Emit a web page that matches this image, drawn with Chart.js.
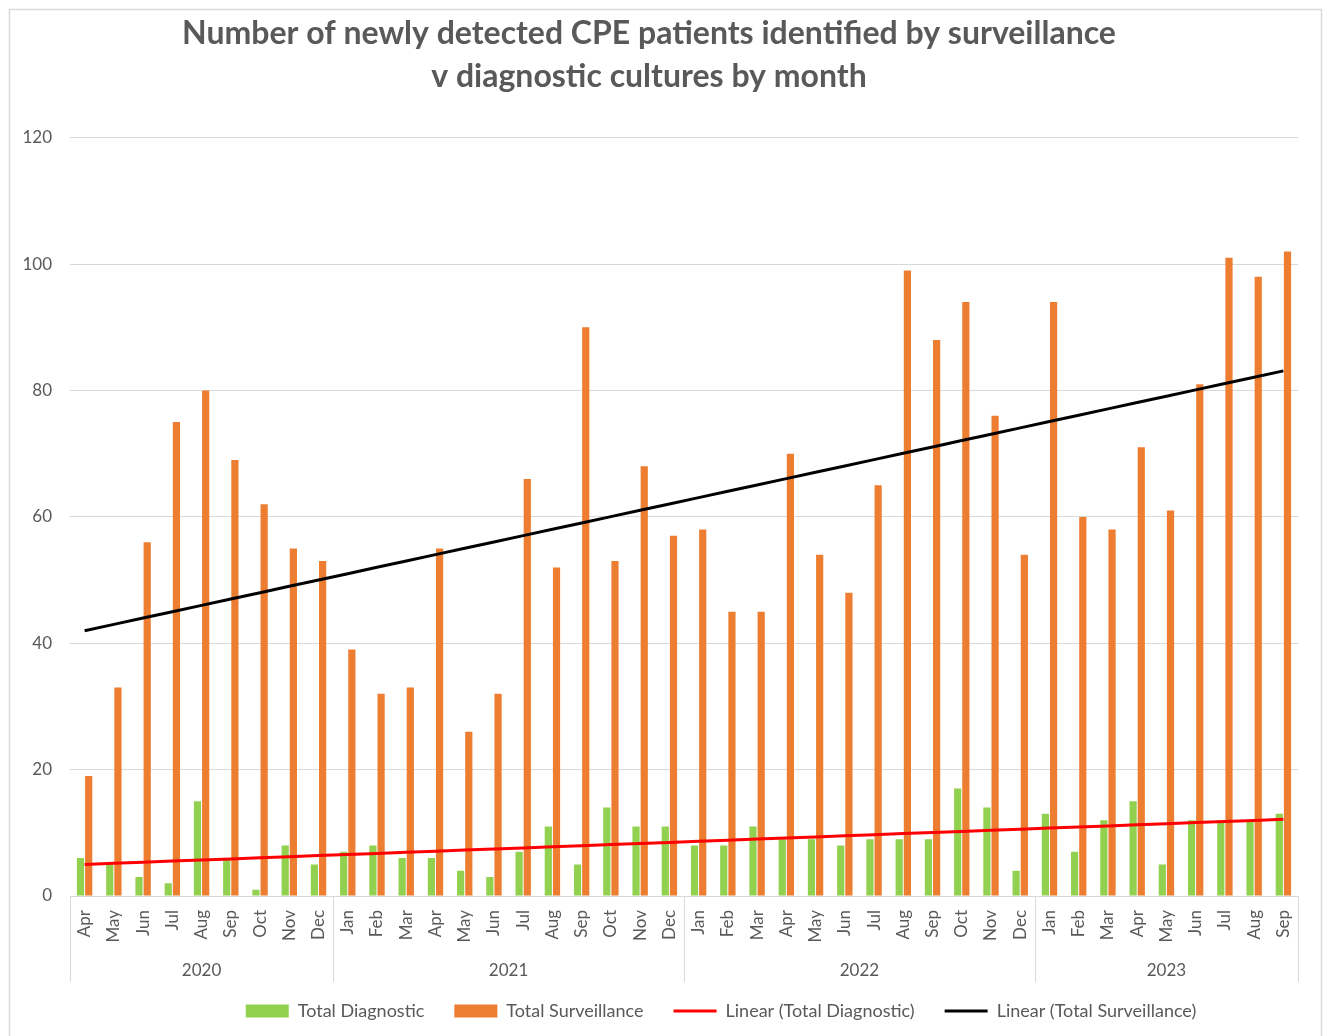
<!DOCTYPE html>
<html lang="en">
<head>
<meta charset="UTF-8">
<title>Newly detected CPE patients by month</title>
<script src="https://cdn.jsdelivr.net/npm/chart.js@4.4.1/dist/chart.umd.min.js"></script>
<style>
    html, body { margin: 0; padding: 0; background: #fff; overflow: hidden; }
    .chart-box { position: relative; width: 1323px; height: 1036px; }
</style>
</head>
<body>
<div class="chart-box"><canvas id="cpeChart"></canvas></div>
<script>
// Category axis: months, grouped by year
const yearLabels = ['2020', '2021', '2022', '2023'];
const monthsInYear = [9, 12, 12, 9];
const monthLabels = [
    'Apr', 'May', 'Jun', 'Jul', 'Aug', 'Sep', 'Oct', 'Nov', 'Dec',
    'Jan', 'Feb', 'Mar', 'Apr', 'May', 'Jun', 'Jul', 'Aug', 'Sep', 'Oct', 'Nov', 'Dec',
    'Jan', 'Feb', 'Mar', 'Apr', 'May', 'Jun', 'Jul', 'Aug', 'Sep', 'Oct', 'Nov', 'Dec',
    'Jan', 'Feb', 'Mar', 'Apr', 'May', 'Jun', 'Jul', 'Aug', 'Sep'
];

// Series values
const totalDiagnostic = [
    6, 5, 3, 2, 15, 6, 1, 8, 5,
    7, 8, 6, 6, 4, 3, 7, 11, 5, 14, 11, 11,
    8, 8, 11, 9, 9, 8, 9, 9, 9, 17, 14, 4,
    13, 7, 12, 15, 5, 12, 12, 12, 13
];
const totalSurveillance = [
    19, 33, 56, 75, 80, 69, 62, 55, 53,
    39, 32, 33, 55, 26, 32, 66, 52, 90, 53, 68, 57,
    58, 45, 45, 70, 54, 48, 65, 99, 88, 94, 76, 54,
    94, 60, 58, 71, 61, 81, 101, 98, 102
];

const yTicks = [0, 20, 40, 60, 80, 100, 120];

const GREY_TEXT = '#595959';
const GRID = '#d9d9d9';
const FONT = 'Lato, "Open Sans", sans-serif';

// least squares trendline, same as Excel's "Linear" trendline
function linearTrend(values) {
    const n = values.length;
    let sx = 0, sy = 0, sxy = 0, sxx = 0;
    values.forEach((v, i) => {
        const x = i + 1;
        sx += x; sy += v; sxy += x * v; sxx += x * x;
    });
    const slope = (n * sxy - sx * sy) / (n * sxx - sx * sx);
    const icpt = (sy - slope * sx) / n;
    return values.map((_, i) => icpt + slope * (i + 1));
}

// white background, outer frame, year row under the month labels
const yearAxisPlugin = {
    id: 'yearAxis',
    afterLayout(chart) {
        // Excel put the legend a bit right of centre
        chart.legend.left += 72;
        chart.legend.right += 72;
    },
    beforeDraw(chart) {
        const ctx = chart.ctx;
        ctx.save();
        ctx.fillStyle = '#fff';
        ctx.fillRect(0, 0, chart.width, chart.height);
        ctx.strokeStyle = GRID;
        ctx.lineWidth = 1.5;
        ctx.strokeRect(9.5, 9.5, chart.width - 11, chart.height + 20);
        ctx.restore();
    },
    afterDraw(chart) {
        const ctx = chart.ctx;
        const xs = chart.scales.x;
        const area = chart.chartArea;
        const step = xs.width / monthLabels.length;
        ctx.save();
        ctx.strokeStyle = GRID;
        ctx.lineWidth = 1;
        ctx.fillStyle = GREY_TEXT;
        ctx.font = '17px ' + FONT;
        ctx.textAlign = 'center';
        ctx.textBaseline = 'middle';
        let start = 0;
        monthsInYear.forEach((count, i) => {
            const left = xs.left + start * step;
            const right = xs.left + (start + count) * step;
            ctx.beginPath();
            ctx.moveTo(Math.round(left) + 0.5, area.bottom);
            ctx.lineTo(Math.round(left) + 0.5, area.bottom + 86);
            ctx.stroke();
            if (i === monthsInYear.length - 1) {
                ctx.beginPath();
                ctx.moveTo(Math.round(right) + 0.5, area.bottom);
                ctx.lineTo(Math.round(right) + 0.5, area.bottom + 86);
                ctx.stroke();
            }
            ctx.fillText(yearLabels[i], (left + right) / 2, area.bottom + 75);
            start += count;
        });
        ctx.restore();
    }
};

const ctx = document.getElementById('cpeChart').getContext('2d');
const cpeChart = new Chart(ctx, {
    type: 'bar',
    data: {
        labels: monthLabels,
        datasets: [
            {
                label: 'Total Diagnostic',
                data: totalDiagnostic,
                backgroundColor: '#92d050',
                borderWidth: 0,
                pointStyle: 'rect',
                barPercentage: 0.88,
                categoryPercentage: 0.56,
                order: 2
            },
            {
                label: 'Total Surveillance',
                data: totalSurveillance,
                backgroundColor: '#ed7d31',
                borderWidth: 0,
                pointStyle: 'rect',
                barPercentage: 0.88,
                categoryPercentage: 0.56,
                order: 3
            },
            {
                type: 'line',
                label: 'Linear (Total Diagnostic)',
                data: linearTrend(totalDiagnostic),
                borderColor: '#ff0000',
                backgroundColor: '#ff0000',
                borderWidth: 3,
                pointRadius: 0,
                pointStyle: 'line',
                tension: 0,
                order: 1
            },
            {
                type: 'line',
                label: 'Linear (Total Surveillance)',
                data: linearTrend(totalSurveillance),
                borderColor: '#000000',
                backgroundColor: '#000000',
                borderWidth: 3,
                pointRadius: 0,
                pointStyle: 'line',
                tension: 0,
                order: 0
            }
        ]
    },
    options: {
        responsive: true,
        maintainAspectRatio: false,
        animation: false,
        devicePixelRatio: 1,
        layout: {
            padding: { left: 0, right: 25, top: 0, bottom: 6 }
        },
        plugins: {
            title: {
                display: true,
                text: ['Number of newly detected CPE patients identified by surveillance',
                       'v diagnostic cultures by month'],
                color: GREY_TEXT,
                font: { family: FONT, size: 32, weight: 'bold', lineHeight: 1.34 },
                padding: { top: 12, bottom: 40 }
            },
            legend: {
                position: 'bottom',
                labels: {
                    usePointStyle: true,
                    pointStyleWidth: 43,
                    boxHeight: 13,
                    color: GREY_TEXT,
                    font: { family: FONT, size: 18 },
                    padding: 30,
                    sort: (a, b) => a.datasetIndex - b.datasetIndex
                }
            },
            tooltip: { enabled: false }
        },
        scales: {
            x: {
                offset: true,
                grid: { display: false },
                border: { display: true, color: GRID, width: 1 },
                ticks: {
                    autoSkip: false,
                    minRotation: 90,
                    maxRotation: 90,
                    padding: 6,
                    color: GREY_TEXT,
                    font: { family: FONT, size: 17 }
                },
                afterFit(scale) { scale.height = 76; }
            },
            y: {
                min: 0,
                max: 120,
                afterBuildTicks(scale) { scale.ticks = yTicks.map(v => ({ value: v })); },
                grid: { color: GRID, drawTicks: false },
                border: { display: false },
                ticks: {
                    padding: 18,
                    color: GREY_TEXT,
                    font: { family: FONT, size: 17 }
                },
                afterFit(scale) { scale.width = 70; }
            }
        }
    },
    plugins: [yearAxisPlugin]
});
</script>
</body>
</html>
